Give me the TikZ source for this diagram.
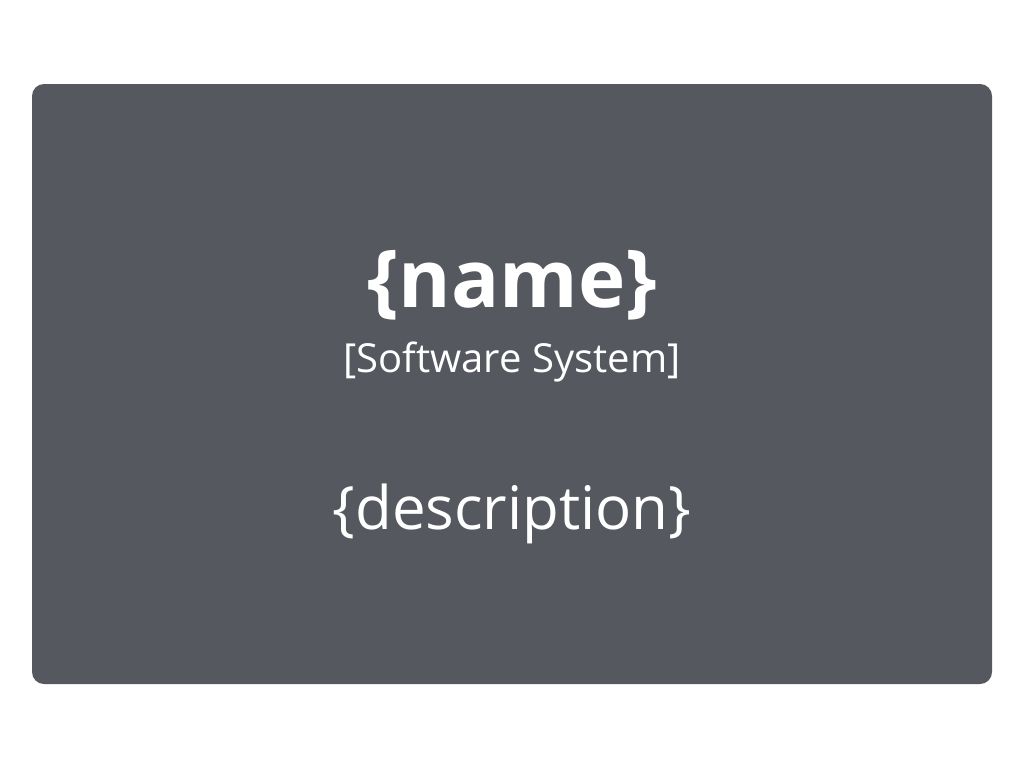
\documentclass[tikz,border=0pt]{standalone}
\usepackage{fontspec}
\setmainfont{Open Sans}
\definecolor{boxgray}{HTML}{55595F}
\tikzset{
  sysbox/.style={fill=boxgray, draw=none, rounded corners=12pt},
  txt/.style={text=white, inner sep=0pt, anchor=base}
}
\begin{document}
\begin{tikzpicture}[x=1pt,y=-1pt]
\useasboundingbox (0,0) rectangle (1024,768);
\fill[sysbox] (32,84) rectangle (992,684);
\node[txt, font=\fontsize{80}{88}\selectfont\bfseries] (name) at (512,307) {\{name\}};
\node[txt, font=\fontsize{40}{46}\selectfont] (type) at (512,372) {[Software System]};
\node[txt, font=\fontsize{60}{70}\selectfont] (desc) at (512,529) {\{description\}};
\end{tikzpicture}
\end{document}
